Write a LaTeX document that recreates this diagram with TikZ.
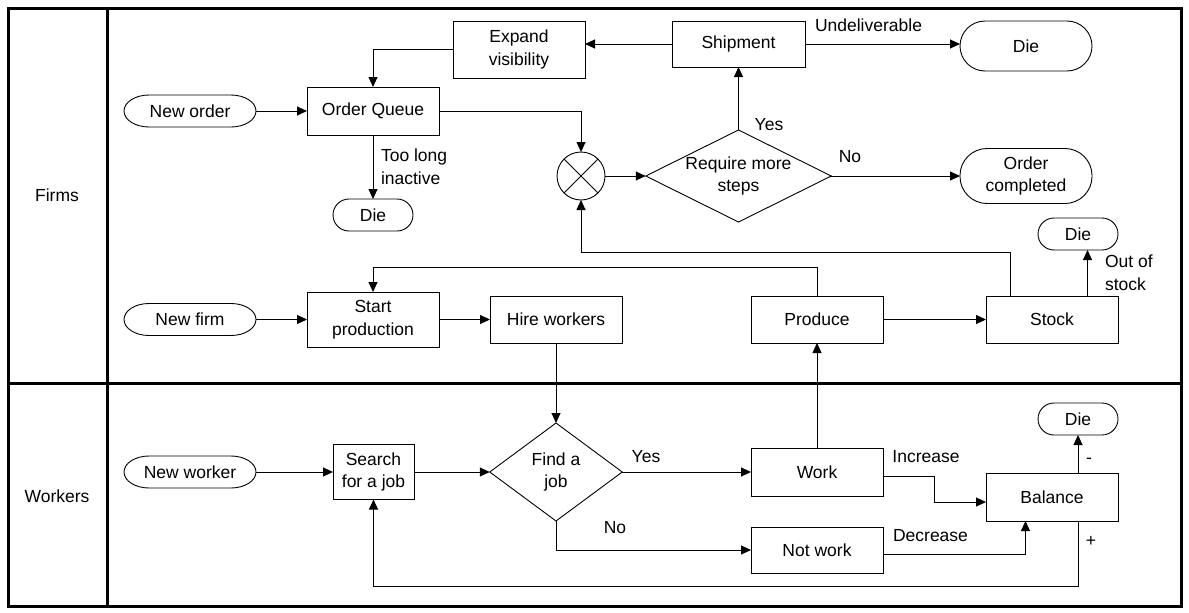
\documentclass[tikz,border=0pt]{standalone}
\usepackage{fontspec}
\setmainfont{Liberation Sans}
\usetikzlibrary{shapes.geometric,arrows.meta}
\newcommand\ovalline[1]{\draw[line] ([xshift=25pt]#1.north west) -- ([xshift=-25pt]#1.north east) arc[start angle=90,end angle=-90,x radius=25pt,y radius=16pt] -- ([xshift=25pt]#1.south west) arc[start angle=270,end angle=90,x radius=25pt,y radius=16pt] -- cycle;}
\begin{document}
\begin{tikzpicture}[x=1pt,y=1pt,
  font=\fontsize{17.5}{22.5}\selectfont,
  base/.style={inner sep=0pt,outer sep=0pt,align=center,line width=0.9pt},
  box/.style={base,draw,minimum width=132pt},
  term/.style={base,draw,rounded corners=#1},
  oval/.style={base,minimum width=132pt,minimum height=32pt},
  dec/.style={base,draw,diamond},
  arr/.style={line width=0.9pt,-{Triangle[length=10pt,width=9pt]}},
  line/.style={line width=0.9pt},
  lbl/.style={inner sep=0pt,outer sep=0pt},
  lane/.style={line width=3pt}]
\path[use as bounding box] (0,0) rectangle (1189,-613);
\draw[lane] (8,-8) rectangle (1181,-606);
\draw[lane] (107,-8) -- (107,-606);
\draw[lane] (8,-383) -- (1181,-383);
\node[lbl] (firms) at (57,-195) {Firms};
\node[lbl] (workers) at (57,-496) {Workers};

% nodes
\node[box,minimum height=57pt] (expand) at (519,-49.5) {Expand\\visibility};
\node[box,minimum width=133pt,minimum height=46pt] (ship) at (738.5,-44) {Shipment};
\node[term=25pt,minimum width=132pt,minimum height=50pt] (die1) at (1026,-46) {Die};
\node[box,minimum height=48pt] (oq) at (373,-111) {Order Queue};
\node[oval] (neworder) at (190,-111) {New order};
\node[term=16pt,minimum width=80pt,minimum height=32pt] (die2) at (373,-215) {Die};
\node[base,draw,circle,minimum size=48pt] (merge) at (581,-176) {};
\node[dec,aspect=2,minimum width=185.5pt,minimum height=92pt] (req) at (738.5,-176) {Require more\\steps};
\node[term=27pt,minimum width=132pt,minimum height=55pt] (done) at (1026,-176) {Order\\completed};
\node[term=16pt,minimum width=80pt,minimum height=32pt] (die3) at (1078,-234) {Die};
\node[oval] (newfirm) at (190,-319.5) {New firm};
\node[box,minimum height=55pt] (start) at (373,-319.5) {Start\\production};
\node[box,minimum height=47pt] (hire) at (556,-319.5) {Hire workers};
\node[box,minimum height=47pt] (produce) at (817,-319.5) {Produce};
\node[box,minimum height=47pt] (stock) at (1052,-319.5) {Stock};
\node[oval] (newworker) at (190,-472) {New worker};
\node[box,minimum width=81pt,minimum height=55pt] (search) at (373.5,-472) {Search\\for a job};
\node[dec,aspect=1.35,minimum width=132.5pt,minimum height=98pt] (find) at (556,-472) {Find a\\job};
\node[box,minimum height=48pt] (work) at (817,-472) {Work};
\node[box,minimum height=46pt] (notwork) at (817,-550) {Not work};
\node[box,minimum height=48pt] (balance) at (1052,-497) {Balance};
\node[term=16pt,minimum width=80pt,minimum height=32pt] (die4) at (1078,-419) {Die};

\ovalline{neworder}
\ovalline{newfirm}
\ovalline{newworker}
\draw[line] (merge.north west) -- (merge.south east) (merge.north east) -- (merge.south west);

% connectors
\draw[arr] (ship.west) -- (ship.west -| expand.east);
\draw[arr] (ship.east) -- (ship.east -| die1.west);
\node[lbl] (l1) at (868.5,-25) {Undeliverable};
\draw[arr] (expand.west) -| (oq.north);
\draw[arr] (neworder.east) -- (oq.west);
\draw[arr] (oq.east) -| (merge.north);
\draw[arr] (oq.south) -- (die2.north);
\node[lbl,align=left,anchor=west] (l2) at (381,-166.5) {Too long\\inactive};
\draw[arr] (merge.east) -- (req.west);
\draw[arr] (req.north) -- (ship.south);
\node[lbl] (l3) at (769,-125) {Yes};
\draw[arr] (req.east) -- (done.west);
\node[lbl] (l4) at (850,-157) {No};
\coordinate (s1) at ([xshift=-42pt]stock.north);
\draw[arr] (s1) -- ++(0,44) -| (merge.south);
\coordinate (s2) at ([xshift=35.5pt]stock.north);
\draw[arr] (s2) -- (s2 |- die3.south);
\node[lbl,align=left,anchor=west] (l5) at (1105,-273) {Out of\\stock};
\draw[arr] (newfirm.east) -- (start.west);
\draw[arr] (start.east) -- (hire.west);
\draw[arr] (produce.east) -- (stock.west);
\draw[arr] (produce.north) -- ++(0,29) -| (start.north);
\draw[arr] (hire.south) -- (find.north);
\draw[arr] (work.north) -- (produce.south);
\draw[arr] (newworker.east) -- (search.west);
\draw[arr] (search.east) -- (find.west);
\draw[arr] (find.east) -- (work.west);
\node[lbl] (l6) at (646,-457) {Yes};
\draw[arr] (find.south) |- (notwork.west);
\node[lbl] (l7) at (615,-528) {No};
\draw[arr] ([yshift=-4pt]work.east) -- ++(51,0) |- ([yshift=-5pt]balance.west);
\node[lbl] (l8) at (926,-457) {Increase};
\draw[arr] ([yshift=-4pt]notwork.east) -| ([xshift=-26.5pt]balance.south);
\node[lbl] (l9) at (930.5,-536) {Decrease};
\draw[arr] ([xshift=26pt]balance.north) -- (die4.south);
\node[lbl] (l10) at (1089,-461) {-};
\draw[arr] ([xshift=26pt]balance.south) -- ++(0,-65) -| (search.south);
\node[lbl] (l11) at (1091,-541) {+};
\end{tikzpicture}
\end{document}
